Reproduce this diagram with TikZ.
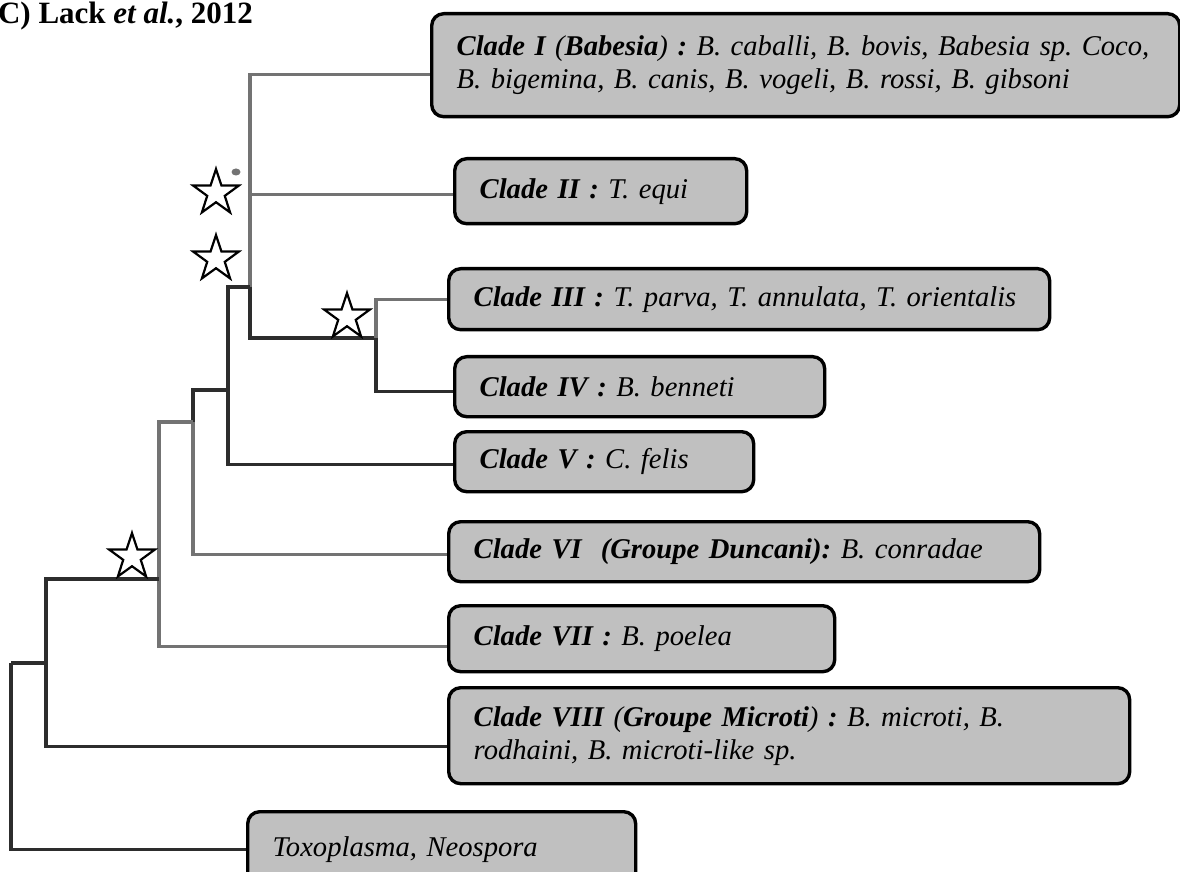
\documentclass[tikz,border=0pt]{standalone}
\usepackage{fontspec}
\setmainfont{Liberation Serif}
\usetikzlibrary{shapes.geometric}
\definecolor{boxgray}{RGB}{192,192,192}
\definecolor{branchdark}{RGB}{45,45,45}
\definecolor{branchlight}{RGB}{115,115,115}
\frenchspacing
\begin{document}
\begin{tikzpicture}[x=0.5pt,y=-0.5pt,
	clade/.style={draw=black,line width=1.7pt,fill=boxgray,rounded corners=6pt,anchor=north west,
		inner xsep=12.5pt,inner ysep=0pt,align=left,
		font=\itshape\fontsize{14.3}{16.5}\selectfont},
	branch/.style={draw=branchdark,line width=1.6pt},
	lightbranch/.style={draw=branchlight,line width=1.6pt},
	support/.style={star,star points=5,star point ratio=2.6,draw=black,line width=1.1pt,
		minimum size=24pt,inner sep=0pt}]
	\useasboundingbox (0,0) rectangle (1180,872);
	\clip (0,0) rectangle (1180,872);
	\node[anchor=base west,font=\bfseries\fontsize{15.5}{17}\selectfont] (title) at (-9,24) {C) Lack \textit{et al.}, 2012};
	% boites des clades
	\node[clade,text width=349pt,minimum height=51.5pt] (c1) at (430,12)
		{\textbf{Clade I} (\textbf{Babesia}) \textbf{:} B. caballi, B. bovis, Babesia sp. Coco,\\ B. bigemina, B. canis, B. vogeli, B. rossi, B. gibsoni};
	\node[clade,text width=121pt,minimum height=32.5pt] (c2) at (453,157) {\textbf{Clade II :} T. equi};
	\node[clade,text width=275.5pt,minimum height=30.5pt] (c3) at (447,267) {\textbf{Clade III :} T. parva, T. annulata, T. orientalis};
	\node[clade,text width=160pt,minimum height=30pt] (c4) at (453,355) {\textbf{Clade IV :} B. benneti};
	\node[clade,text width=124.5pt,minimum height=30pt] (c5) at (453,430) {\textbf{Clade V :} C. felis};
	\node[clade,text width=270.5pt,minimum height=30pt] (c6) at (447,520) {\textbf{Clade VI\ \ (Groupe Duncani):} B. conradae};
	\node[clade,text width=168pt,minimum height=33pt] (c7) at (447,604) {\textbf{Clade VII :} B. poelea};
	\node[clade,text width=315.5pt,minimum height=48pt] (c8) at (447,686)
		{\textbf{Clade VIII} (\textbf{Groupe Microti}) \textbf{:} B. microti, B.\\ rodhaini, B. microti-like sp.};
	\node[clade,text width=169pt,minimum height=38pt] (toxo) at (246,810) {Toxoplasma, Neospora};
	% noeuds internes
	\coordinate (nA) at (250,287);
	\coordinate (nB) at (376,338);
	\coordinate (nC) at (228,390);
	\coordinate (nD) at (193,422);
	\coordinate (nE) at (159,579);
	\coordinate (nF) at (46,663);
	\coordinate (nR) at (11,663);
	\draw[lightbranch] (nA) |- ([yshift=-4.75pt]c1.west);
	\draw[lightbranch] (nA) |- ([yshift=-1.75pt]c2.west);
	\draw[branch] (nA) |- (nB);
	\draw[lightbranch] (nB) |- (c3.west);
	\draw[branch] (nB) |- ([yshift=-2.5pt]c4.west);
	\draw[branch] (nC) |- (nA);
	\draw[branch] (nC) |- ([yshift=-1.5pt]c5.west);
	\draw[branch] (nD) |- (nC);
	\draw[lightbranch] (nD) |- ([yshift=-1.5pt]c6.west);
	\draw[lightbranch] (nE) |- (nD);
	\draw[lightbranch] (nE) |- ([yshift=-4pt]c7.west);
	\draw[branch] (nF) |- (nE);
	\draw[branch] (nF) |- ([yshift=-5.5pt]c8.west);
	\draw[branch] (nR) |- (nF);
	\draw[branch] (nR) |- (toxo.west);
	% etoiles
	\node[support] (s1) at (216,193) {};
	\node[ellipse,fill=branchlight,inner sep=0pt,minimum width=4.5pt,minimum height=3.5pt] (s1dot) at (236,172) {};
	\node[support] (s2) at (216,259) {};
	\node[support] (s3) at (347,317) {};
	\node[support] (s4) at (132,557) {};
\end{tikzpicture}
\end{document}
